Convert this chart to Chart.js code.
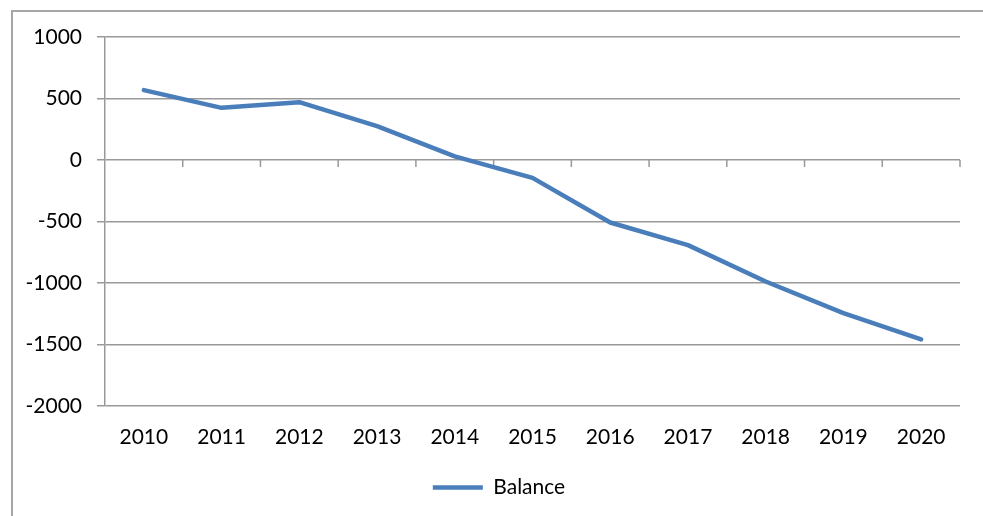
<!DOCTYPE html>
<html>
<head>
<meta charset="utf-8">
<script src="https://cdn.jsdelivr.net/npm/chart.js@4/dist/chart.umd.min.js"></script>
<style>
  html, body { margin: 0; padding: 0; background: #fff; }
  #wrap { position: relative; width: 983px; height: 516px; overflow: hidden; }
  #frame { position: absolute; left: 11px; top: 10px; width: 990px; height: 520px;
           border: 2px solid #a6a6a6; pointer-events: none; }
</style>
</head>
<body>
<div id="wrap">
  <canvas id="chart" width="983" height="516"></canvas>
  <div id="frame"></div>
</div>
<script>
const years = ['2010', '2011', '2012', '2013', '2014', '2015', '2016', '2017', '2018', '2019', '2020'];
const balance = [568, 424, 470, 275, 30, -145, -508, -692, -988, -1245, -1458];
const yTicks = [-2000, -1500, -1000, -500, 0, 500, 1000];

const gridGray = '#999999';
const lineBlue = '#4a7ebb';
const fontFamily = 'Lato, "Open Sans", sans-serif';

// Excel-style tick marks sitting on the zero line between categories
const zeroTicks = {
  id: 'zeroTicks',
  beforeDatasetsDraw(chart) {
    const x = chart.scales.x;
    const y = chart.scales.y;
    const y0 = y.getPixelForValue(0);
    const ctx = chart.ctx;
    ctx.save();
    ctx.strokeStyle = gridGray;
    ctx.lineWidth = 1.5;
    ctx.beginPath();
    for (let i = 1; i <= years.length; i++) {
      const px = i < years.length
        ? (x.getPixelForValue(i - 1) + x.getPixelForValue(i)) / 2
        : chart.chartArea.right;
      ctx.moveTo(px, y0);
      ctx.lineTo(px, y0 + 7);
    }
    ctx.stroke();
    ctx.restore();
  }
};

// nudge the centred legend a little to the right, like the original
const legendShift = {
  id: 'legendShift',
  beforeDraw(chart) {
    if (chart.legend) chart.legend.left = 38;
  }
};

new Chart(document.getElementById('chart'), {
  type: 'line',
  data: {
    labels: years,
    datasets: [{
      label: 'Balance',
      data: balance,
      borderColor: lineBlue,
      backgroundColor: lineBlue,
      borderWidth: 4.5,
      borderCapStyle: 'round',
      borderJoinStyle: 'round',
      pointRadius: 0,
      pointHoverRadius: 0,
      tension: 0,
      fill: false
    }]
  },
  options: {
    responsive: false,
    animation: false,
    layout: { padding: { left: 0, right: 23, top: 37, bottom: 8 } },
    plugins: {
      tooltip: { enabled: false },
      legend: {
        position: 'bottom',
        labels: {
          usePointStyle: true,
          pointStyle: 'line',
          pointStyleWidth: 50,
          color: '#000',
          padding: 10,
          font: { family: fontFamily, size: 21 }
        }
      }
    },
    scales: {
      x: {
        offset: true,
        grid: { display: false, drawTicks: false },
        border: { display: false },
        ticks: {
          color: '#000',
          padding: 19,
          maxRotation: 0,
          font: { family: fontFamily, size: 21 }
        },
        afterFit(scale) { scale.height = 61; }
      },
      y: {
        min: -2000,
        max: 1000,
        afterBuildTicks(scale) { scale.ticks = yTicks.map(v => ({ value: v })); },
        grid: { color: gridGray, lineWidth: 1.5, tickLength: 8, tickColor: gridGray },
        border: { display: true, color: gridGray, width: 1.5 },
        ticks: {
          color: '#000',
          padding: 15,
          font: { family: fontFamily, size: 21 },
          callback: v => String(v)
        },
        afterFit(scale) { scale.width = 105; }
      }
    }
  },
  plugins: [zeroTicks, legendShift]
});
</script>
</body>
</html>
